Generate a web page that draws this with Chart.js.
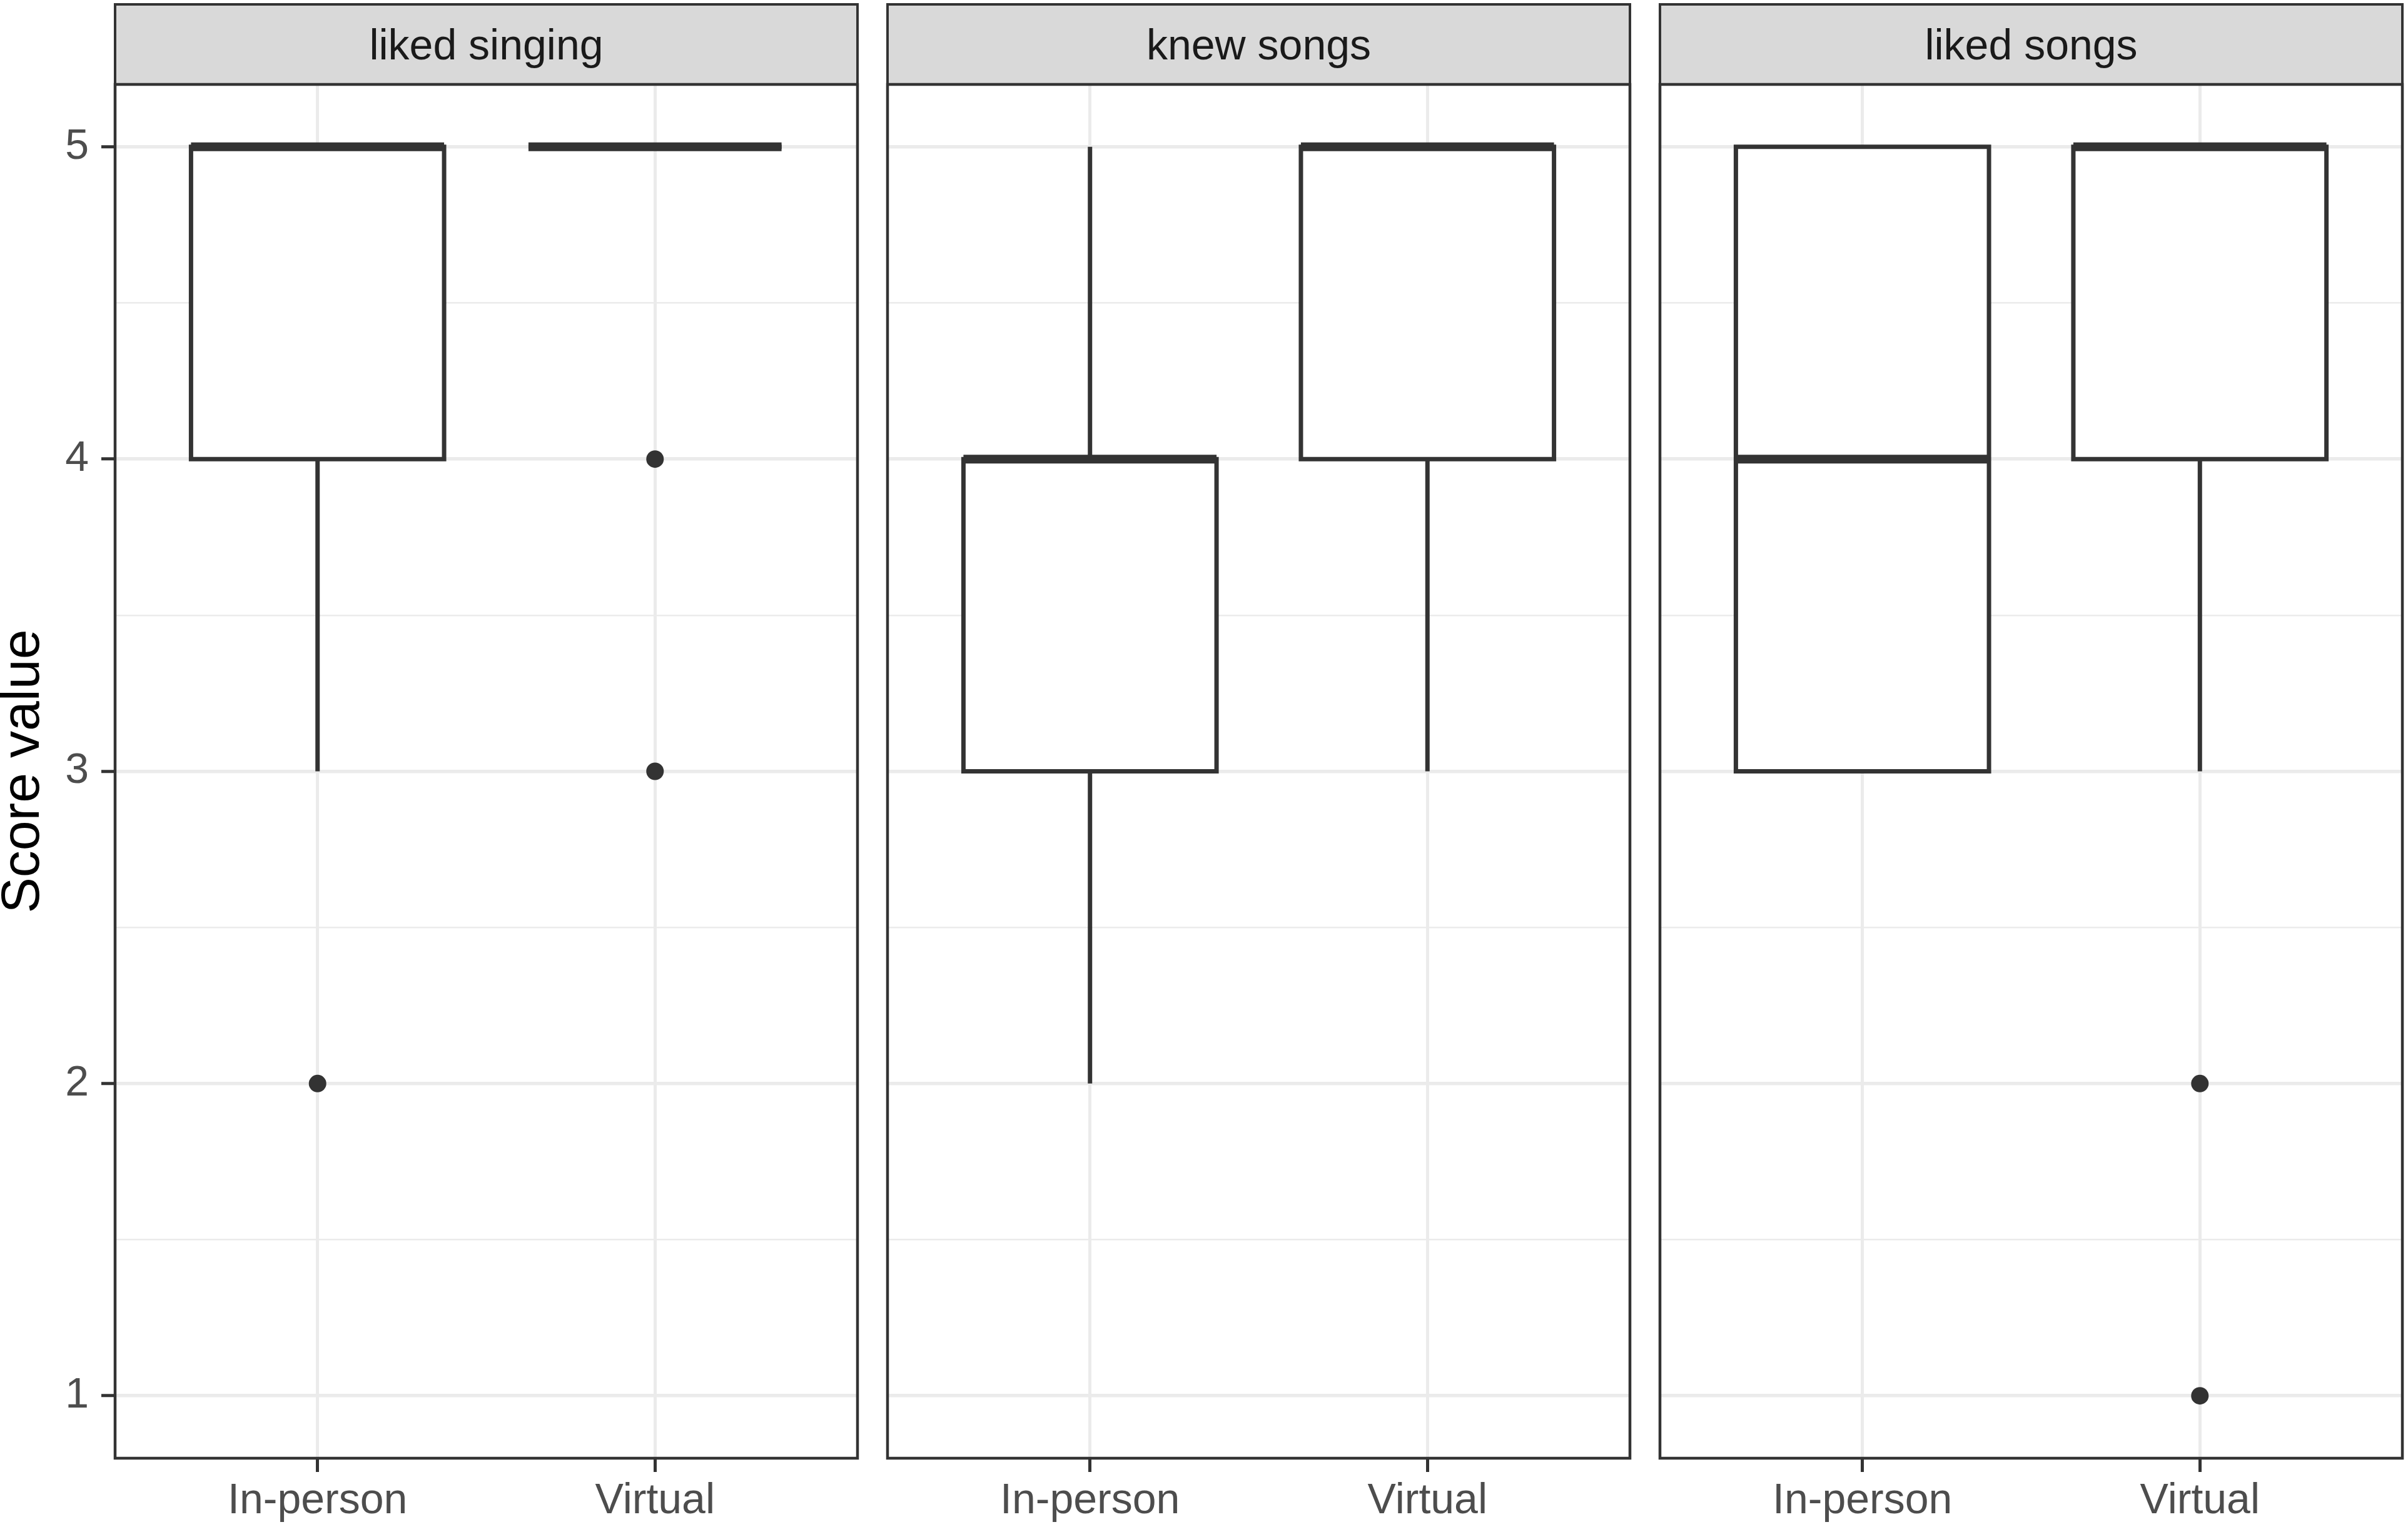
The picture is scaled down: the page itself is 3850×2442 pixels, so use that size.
<!DOCTYPE html>
<html>
<head>
<meta charset="utf-8">
<script src="https://cdn.jsdelivr.net/npm/chart.js@4.4.1/dist/chart.umd.min.js"></script>
<style>
  html, body { margin: 0; padding: 0; background: #fff; }
  body { width: 3850px; height: 2442px; position: relative; overflow: hidden; font-family: "Liberation Sans", Arial, sans-serif; }
  .strip { position: absolute; box-sizing: border-box; background: #d9d9d9; border: 4px solid #333; color: #1a1a1a;
           font-size: 68px; display: flex; align-items: center; justify-content: center; }
  canvas { position: absolute; }
</style>
</head>
<body>
<script>
// facet titles and x categories
const panels = ['liked singing', 'knew songs', 'liked songs'];
const groups = ['In-person', 'Virtual'];

// box stats per group: [lower whisker, q1, median, q3, upper whisker]
const likedSinging = [[3, 4, 5, 5, 5], [5, 5, 5, 5, 5]];
const knewSongs    = [[2, 3, 4, 4, 5], [3, 4, 5, 5, 5]];
const likedSongs   = [[3, 3, 4, 5, 5], [3, 4, 5, 5, 5]];

// outliers per group
const likedSingingOut = [[2], [4, 3]];
const knewSongsOut    = [[], []];
const likedSongsOut   = [[], [2, 1]];

// y ticks
const yMajor = [1, 2, 3, 4, 5];
const yMinor = [1.5, 2.5, 3.5, 4.5];
const yTitle = 'Score value';

const panelStats = [likedSinging, knewSongs, likedSongs];
const panelOut   = [likedSingingOut, knewSongsOut, likedSongsOut];

// layout (px)
const PANEL_L = [184, 1419, 2654];
const PANEL_W = 1187;
const STRIP_T = 5;
const PLOT_T = 135;
const PLOT_B = 2332;
const PAD = 4;
const INK = '#333333';
const GRID = '#ebebeb';
const FONT = '"Liberation Sans", Arial, sans-serif';
const BOX_HALF = 0.375;

function lineDs(data, width, order) {
  return { type: 'line', data, borderColor: INK, borderWidth: width, pointRadius: 0,
           fill: false, tension: 0, borderJoinStyle: 'miter', order };
}

function boxDatasets(stats, outliers) {
  const ds = [];
  stats.forEach((s, g) => {
    const x = g + 1;
    const [lo, q1, med, q3, hi] = s;
    const l = x - BOX_HALF, r = x + BOX_HALF;
    // white box body (hides grid)
    ds.push({ type: 'line', data: [{x: l, y: q3}, {x: r, y: q3}], fill: {value: q1},
              backgroundColor: '#ffffff', borderColor: 'rgba(0,0,0,0)', borderWidth: 0, pointRadius: 0, order: 5 });
    if (lo < q1) ds.push(lineDs([{x, y: lo}, {x, y: q1}], 7, 4));
    if (hi > q3) ds.push(lineDs([{x, y: q3}, {x, y: hi}], 7, 4));
    ds.push(lineDs([{x: l, y: q1}, {x: r, y: q1}, {x: r, y: q3}, {x: l, y: q3}, {x: l, y: q1}, {x: r, y: q1}], 7, 3));
    ds.push(lineDs([{x: l, y: med}, {x: r, y: med}], 14, 2));
    if (outliers[g].length) {
      ds.push({ type: 'scatter', data: outliers[g].map(v => ({x, y: v})), pointRadius: 14,
                pointBackgroundColor: INK, pointBorderWidth: 0, showLine: false, order: 0 });
    }
  });
  return ds;
}

const frame = {
  id: 'frame',
  afterDraw(chart) {
    const { ctx, chartArea: a } = chart;
    ctx.save();
    ctx.strokeStyle = INK;
    ctx.lineWidth = 4.5;
    ctx.strokeRect(a.left, a.top, a.right - a.left, a.bottom - a.top);
    ctx.restore();
  }
};

const isMajor = v => yMajor.includes(v);

panels.forEach((name, i) => {
  const strip = document.createElement('div');
  strip.className = 'strip';
  strip.textContent = name;
  strip.style.left = (PANEL_L[i] - 2) + 'px';
  strip.style.top = STRIP_T + 'px';
  strip.style.width = (PANEL_W + 4) + 'px';
  strip.style.height = (PLOT_T - STRIP_T + 2) + 'px';
  document.body.appendChild(strip);

  const first = i === 0;
  const leftSpace = first ? PANEL_L[0] : PAD;
  const cv = document.createElement('canvas');
  const w = leftSpace + PANEL_W + PAD;
  const h = 2442 - (PLOT_T - PAD);
  cv.width = w; cv.height = h;
  cv.style.left = (PANEL_L[i] - leftSpace) + 'px';
  cv.style.top = (PLOT_T - PAD) + 'px';
  cv.style.width = w + 'px'; cv.style.height = h + 'px';
  document.body.appendChild(cv);

  new Chart(cv.getContext('2d'), {
    type: 'line',
    data: { datasets: boxDatasets(panelStats[i], panelOut[i]) },
    plugins: [frame],
    options: {
      responsive: false,
      animation: false,
      events: [],
      layout: { autoPadding: false, padding: { top: PAD, right: PAD, left: first ? 0 : PAD, bottom: 0 } },
      plugins: { legend: { display: false }, tooltip: { enabled: false } },
      scales: {
        x: {
          type: 'linear', min: 0.4, max: 2.6,
          afterBuildTicks: s => { s.ticks = groups.map((g, k) => ({ value: k + 1 })); },
          afterFit: s => { s.height = 2442 - PLOT_B; s.paddingLeft = 0; s.paddingRight = 0; },
          border: { display: false },
          grid: { color: GRID, lineWidth: 5, tickColor: INK, tickLength: 22, tickWidth: 5 },
          ticks: { callback: v => groups[v - 1], color: '#4d4d4d', padding: 6, maxRotation: 0, autoSkip: false,
                   font: { family: FONT, size: 68 } }
        },
        y: {
          min: 0.8, max: 5.2,
          afterBuildTicks: s => { s.ticks = [...yMajor, ...yMinor].sort((a, b) => a - b).map(v => ({ value: v })); },
          afterFit: s => { s.width = first ? PANEL_L[0] : 0; s.paddingTop = 0; s.paddingBottom = 0; },
          border: { display: false },
          grid: {
            color: GRID,
            lineWidth: c => isMajor(c.tick.value) ? 5.5 : 2.5,
            tickColor: c => isMajor(c.tick.value) ? INK : 'rgba(0,0,0,0)',
            drawTicks: first, tickLength: 22, tickWidth: 5
          },
          ticks: { display: first, callback: v => isMajor(v) ? String(v) : '', color: '#4d4d4d', padding: 20,
                   font: { family: FONT, size: 68 } },
          title: { display: first, text: yTitle, color: '#000', padding: 0,
                   font: { family: FONT, size: 86, lineHeight: 0.9 } }
        }
      }
    }
  });
});
</script>
</body>
</html>
